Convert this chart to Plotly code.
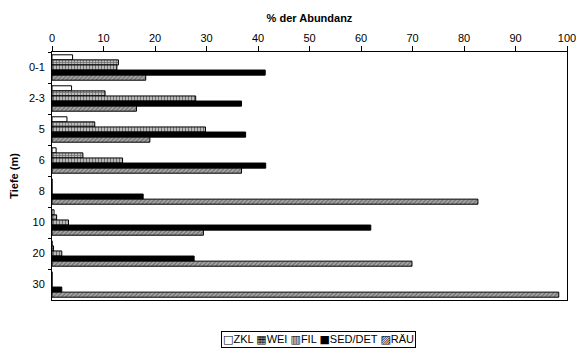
import plotly.graph_objects as go

# Tiefenstufen (m)
depths = ["0-1", "2-3", "5", "6", "8", "10", "20", "30"]

# Anteile an der Abundanz (%) je Ernährungstyp
zkl = [4.0, 3.8, 2.9, 0.8, 0.0, 0.4, 0.0, 0.0]
wei = [12.9, 10.3, 8.3, 6.0, 0.0, 0.9, 0.3, 0.0]
fil = [12.6, 27.9, 29.8, 13.7, 0.0, 3.2, 1.9, 0.0]
sed_det = [41.4, 36.8, 37.6, 41.5, 17.7, 61.9, 27.6, 1.9]
raeu = [18.2, 16.4, 19.0, 36.8, 82.7, 29.4, 69.9, 98.4]

x_ticks = list(range(0, 101, 10))

# (Name, Werte, Füllung, Legendensymbol)
series = [
    ("ZKL", zkl, dict(color="white"), "□"),
    ("WEI", wei, dict(color="#9a9a9a", pattern=dict(shape="+", fgcolor="#111", bgcolor="#bdbdbd", size=3, solidity=0.4)), "▦"),
    ("FIL", fil, dict(color="#9a9a9a", pattern=dict(shape="|", fgcolor="#111", bgcolor="#cfcfcf", size=3, solidity=0.5)), "▥"),
    ("SED/DET", sed_det, dict(color="black"), "■"),
    ("RÄU", raeu, dict(color="#9a9a9a", pattern=dict(shape="/", fgcolor="#333", bgcolor="#a8a8a8", size=3, solidity=0.4)), "▨"),
]

fig = go.Figure()
for name, vals, mk, _ in series:
    fig.add_trace(go.Bar(
        y=depths, x=vals, name=name, orientation="h",
        marker=dict(line=dict(color="black", width=1), **mk),
    ))

font = "Liberation Sans, Arial, sans-serif"
fig.update_layout(
    width=576, height=349,
    margin=dict(l=52, r=9, t=52, b=49, autoexpand=False),
    paper_bgcolor="white", plot_bgcolor="white",
    barmode="group", bargap=0.18, bargroupgap=0.0,
    font=dict(family=font, size=11, color="black"),
    showlegend=False,
)

# kompakte Legende unter dem Diagramm
legend_text = " ".join(
    f"<span style='font-family:DejaVu Sans'>{sym}</span>{name}" for name, _, _, sym in series
)
fig.add_annotation(
    text=legend_text, xref="paper", yref="paper",
    x=0.517, y=-0.161, xanchor="center", yanchor="middle",
    showarrow=False, font=dict(family=font, size=11, color="black"),
    bordercolor="black", borderwidth=1, borderpad=1, bgcolor="white",
)

fig.update_xaxes(
    side="top", range=[0, 100], tickmode="array", tickvals=x_ticks,
    ticktext=[str(v) for v in x_ticks], ticklabeloverflow="allow",
    showline=True, linecolor="black", linewidth=1, mirror=True,
    ticks="outside", ticklen=5, tickcolor="black",
    tickfont=dict(color="black"),
    showgrid=False, zeroline=False,
    title=dict(text="<b>% der Abundanz</b>", font=dict(size=11), standoff=6),
)
fig.update_yaxes(
    type="category", autorange="reversed",
    showline=True, linecolor="black", linewidth=1, mirror=True,
    ticks="outside", ticklen=3, tickcolor="black", tickson="boundaries",
    tickfont=dict(color="black"), ticklabelstandoff=4,
    showgrid=False, zeroline=False,
    title=dict(text="<b>Tiefe (m)</b>", font=dict(size=11), standoff=8),
)

fig.write_html("out.html")
